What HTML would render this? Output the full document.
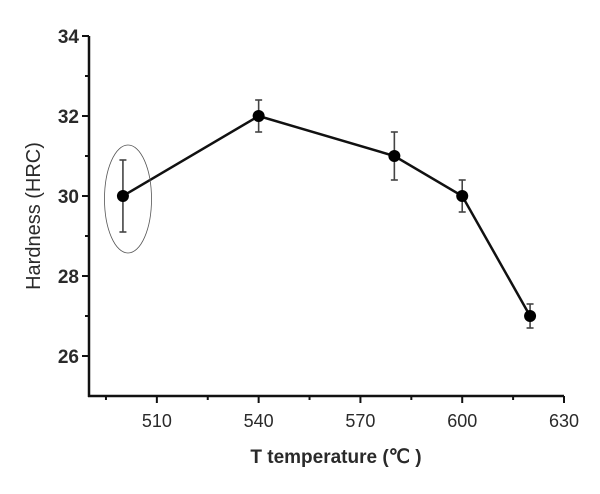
<!DOCTYPE html>
<html><head><meta charset="utf-8"><style>
html,body{margin:0;padding:0;background:#fff;}
svg text{font-family:"Liberation Sans",Arial,sans-serif;fill:#2a2a2a;}
</style></head><body>
<svg id="chart" width="600" height="489" viewBox="0 0 600 489" xmlns="http://www.w3.org/2000/svg">
<g id="axes"></g>
<g id="marks"></g>
<ellipse cx="128" cy="199" rx="23.5" ry="54" fill="none" stroke="#555" stroke-width="0.8"/>
<text x="336" y="463" font-size="19" font-weight="bold" text-anchor="middle">T temperature (℃ )</text>
<text transform="translate(40,216) rotate(-90)" font-size="20" text-anchor="middle">Hardness (HRC)</text>
</svg>
<script>
const categories = [500, 540, 580, 600, 620];
const hardness = [30, 32, 31, 30, 27];
const errLow = [29.1, 31.6, 30.4, 29.6, 26.7];
const errHigh = [30.9, 32.4, 31.6, 30.4, 27.3];
const xTicks = [510, 540, 570, 600, 630];
const yTicks = [26, 28, 30, 32, 34];

const NS = "http://www.w3.org/2000/svg";
const X0 = 89, X1 = 564, xMin = 490, xMax = 630;
const Y0 = 396, Y1 = 36, yMin = 25, yMax = 34;
function sx(v){ return X0 + (v - xMin) / (xMax - xMin) * (X1 - X0); }
function sy(v){ return Y0 - (v - yMin) / (yMax - yMin) * (Y0 - Y1); }
function mk(tag, attrs, parent){ const e = document.createElementNS(NS, tag); for (const k in attrs) e.setAttribute(k, attrs[k]); parent.appendChild(e); return e; }
const axes = document.getElementById('axes');
const marks = document.getElementById('marks');

let yl = mk('line', {x1:X0, y1:Y1, x2:X0, y2:Y0+1, stroke:'#111', 'stroke-width':2.5}, axes);


let xl = mk('line', {x1:X0-1, y1:Y0, x2:X1, y2:Y0, stroke:'#111', 'stroke-width':2.5}, axes);



for (let v = yMin + 1; v <= yMax; v++) {
  const major = yTicks.includes(v);
  const t = mk('line', {x1:X0 - (major ? 7 : 4), y1:sy(v), x2:X0, y2:sy(v), stroke:'#111', 'stroke-width':2}, axes);
  
  
}
yTicks.forEach(v => {
  const t = mk('text', {x:X0 - 10, y:sy(v) + 7, 'font-size':19, 'font-weight':'bold', 'text-anchor':'end'}, axes);
  t.textContent = v;
  
  
});
for (let v = xMin + 5; v <= xMax; v += 15) {
  const major = xTicks.includes(v);
  const t = mk('line', {x1:sx(v), y1:Y0, x2:sx(v), y2:Y0 + (major ? 7 : 4), stroke:'#111', 'stroke-width':2}, axes);
  
  
}
xTicks.forEach(v => {
  const t = mk('text', {x:sx(v), y:Y0 + 31, 'font-size':18, 'text-anchor':'middle'}, axes);
  t.textContent = v;
  
  
});

const pts = categories.map((c, i) => sx(c) + ',' + sy(hardness[i])).join(' ');
const line = mk('polyline', {points:pts, fill:'none', stroke:'#111', 'stroke-width':2.5}, marks);



categories.forEach((c, i) => {
  const x = sx(c);
  const g = mk('g', {}, marks);
  
  
  mk('line', {x1:x, y1:sy(errLow[i]), x2:x, y2:sy(errHigh[i]), stroke:'#444', 'stroke-width':1.6}, g);
  mk('line', {x1:x-3.5, y1:sy(errLow[i]), x2:x+3.5, y2:sy(errLow[i]), stroke:'#444', 'stroke-width':1.6}, g);
  mk('line', {x1:x-3.5, y1:sy(errHigh[i]), x2:x+3.5, y2:sy(errHigh[i]), stroke:'#444', 'stroke-width':1.6}, g);
  const p = mk('circle', {cx:x, cy:sy(hardness[i]), r:6, fill:'#000'}, marks);
  
  
});
</script>
</body></html>
